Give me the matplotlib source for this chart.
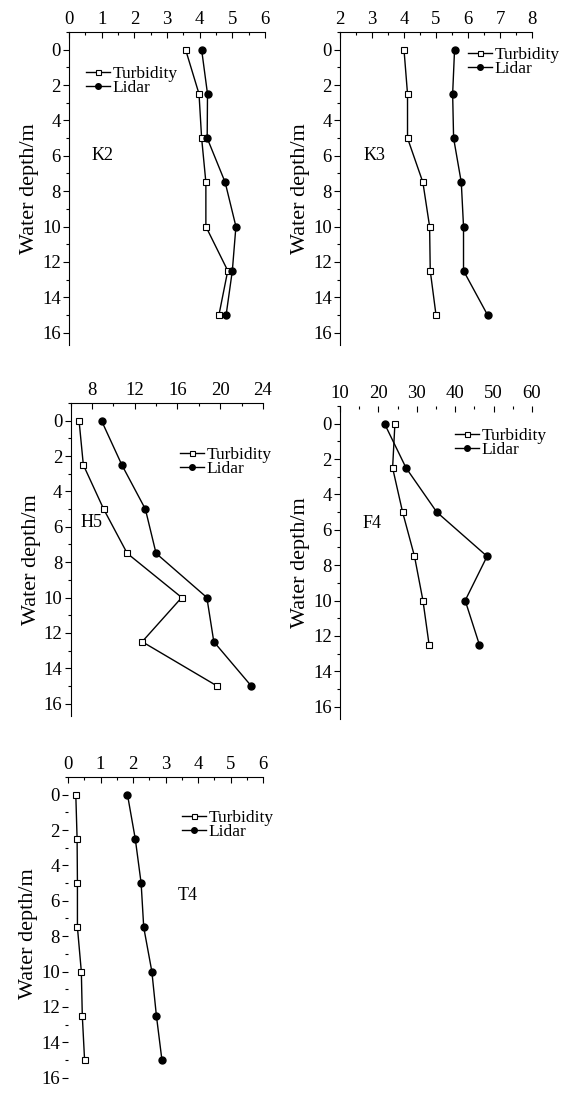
import matplotlib
matplotlib.use('Agg')
import matplotlib.pyplot as plt
from matplotlib.ticker import MultipleLocator

plt.rcParams['font.family'] = ['Liberation Serif', 'DejaVu Serif']

# depths (m)
depth = [0, 2.5, 5, 7.5, 10, 12.5, 15]
depth_f4 = [0, 2.5, 5, 7.5, 10, 12.5]

# station K2
k2_turb = [3.57, 3.98, 4.06, 4.19, 4.19, 4.86, 4.59]
k2_lidar = [4.06, 4.24, 4.23, 4.78, 5.11, 5.0, 4.81]
# station K3
k3_turb = [4.0, 4.11, 4.11, 4.59, 4.80, 4.82, 5.0]
k3_lidar = [5.58, 5.52, 5.55, 5.79, 5.86, 5.86, 6.61]
# station H5
h5_turb = [6.8, 7.2, 9.1, 11.3, 16.4, 12.7, 19.7]
h5_lidar = [8.9, 10.8, 13.0, 14.0, 18.75, 19.4, 22.9]
# station F4
f4_turb = [24.3, 23.7, 26.3, 29.4, 31.6, 33.2]
f4_lidar = [21.6, 27.2, 35.2, 48.3, 42.6, 46.3]
# station T4
t4_turb = [0.24, 0.28, 0.29, 0.29, 0.41, 0.44, 0.51]
t4_lidar = [1.83, 2.07, 2.25, 2.33, 2.58, 2.72, 2.89]

W, H = 585, 1093
fig = plt.figure(figsize=(W / 100, H / 100), dpi=100)


def px_axes(left, right, top):
    h = 313
    return fig.add_axes([left / W, 1 - (top + h) / H, (right - left) / W, h / H])


def panel(ax, dep, turb, lidar, xlim, xmaj, xmin, name, name_xy, leg_px,
          show_top=True, show_left=True):
    ax.plot(turb, dep, '-', color='black', lw=1.0, marker='s', ms=4.5,
            mfc='white', mec='black', mew=0.8, label='Turbidity')
    ax.plot(lidar, dep, '-', color='black', lw=1.0, marker='o', ms=5,
            mfc='black', mec='black', label='Lidar')
    ax.set_xlim(*xlim)
    ax.set_ylim(16.7, -1.0)
    ax.xaxis.set_ticks_position('top')
    ax.xaxis.set_label_position('top')
    ax.xaxis.set_major_locator(MultipleLocator(xmaj))
    ax.xaxis.set_minor_locator(MultipleLocator(xmin))
    ax.yaxis.set_major_locator(MultipleLocator(2))
    ax.yaxis.set_minor_locator(MultipleLocator(1))
    ax.tick_params(axis='x', which='major', direction='in', length=4, width=0.8,
                   labelsize=13.5, pad=3)
    ax.tick_params(axis='x', which='minor', direction='in', length=2, width=0.8)
    ax.tick_params(axis='y', which='major', direction='out', length=4, width=0.8,
                   labelsize=13.5, pad=2)
    ax.tick_params(axis='y', which='minor', direction='out', length=2, width=0.8)
    for s in ['right', 'bottom']:
        ax.spines[s].set_visible(False)
    ax.spines['top'].set_visible(show_top)
    ax.spines['left'].set_visible(show_left)
    ax.spines['top'].set_linewidth(0.8)
    ax.spines['left'].set_linewidth(0.8)
    ax.set_ylabel('Water depth/m', fontsize=16, labelpad=2)
    ax.text(name_xy[0], name_xy[1], name, transform=ax.transAxes, fontsize=13,
            va='center', ha='left')
    ax.legend(loc='upper left', bbox_to_anchor=(leg_px[0] / W, 1 - leg_px[1] / H),
              bbox_transform=fig.transFigure, frameon=False, fontsize=12.5,
              handlelength=1.4, handletextpad=0.15, labelspacing=-0.12,
              borderpad=0, borderaxespad=0, markerscale=0.8)


ax1 = px_axes(69, 265, 32)
panel(ax1, depth, k2_turb, k2_lidar, (0, 6), 1, 0.5, 'K2', (0.117, 0.607), (86, 66))

ax2 = px_axes(340, 532, 32)
panel(ax2, depth, k3_turb, k3_lidar, (2, 8), 1, 0.5, 'K3', (0.125, 0.607), (468, 47))

ax3 = px_axes(70.5, 263, 403)
panel(ax3, depth, h5_turb, h5_lidar, (6, 24), 4, 2, 'H5', (0.05, 0.617), (180, 447))

ax4 = px_axes(340, 532, 406)
panel(ax4, depth_f4, f4_turb, f4_lidar, (10, 60), 10, 5, 'F4', (0.115, 0.626), (455, 428),
      show_top=False)

ax5 = px_axes(68, 263, 777)
panel(ax5, depth, t4_turb, t4_lidar, (0, 6), 1, 0.5, 'T4', (0.56, 0.623), (182, 810),
      show_left=False)

fig.savefig('out.png', dpi=100)
